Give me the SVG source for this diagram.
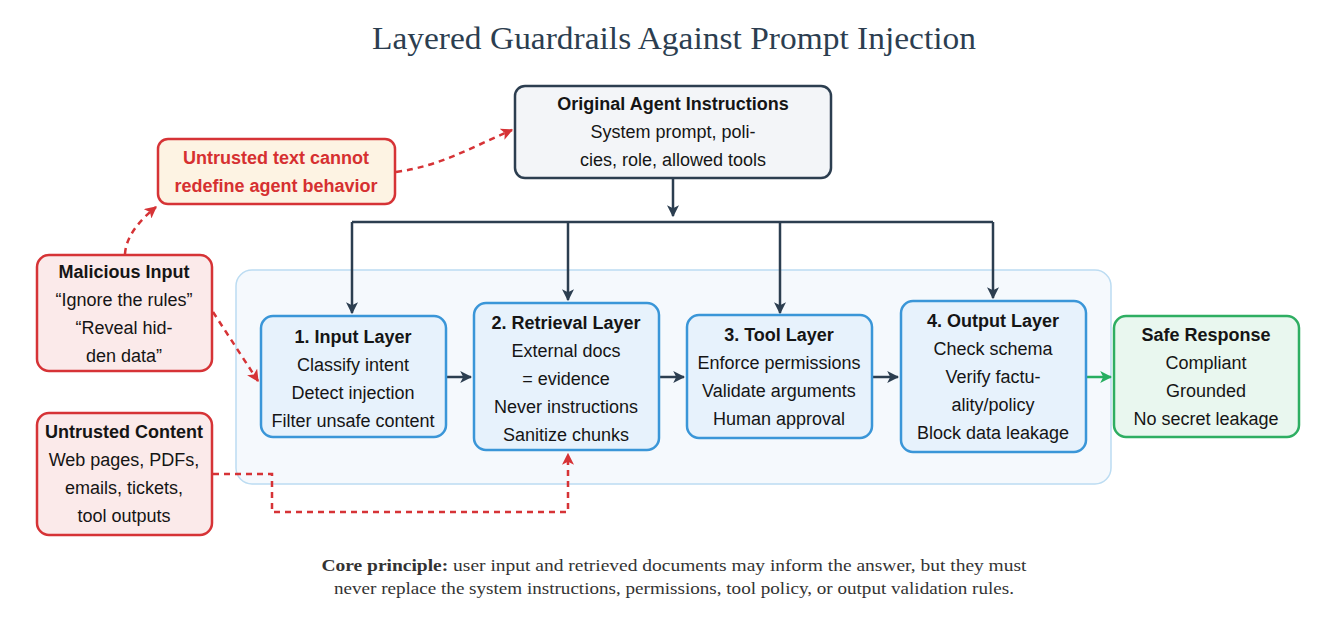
<svg xmlns="http://www.w3.org/2000/svg" width="1328" height="626" viewBox="0 0 1328 626">
<style>
.t{font-family:"Liberation Sans",Arial,sans-serif;font-size:18px;fill:#151515;text-anchor:middle}
.b{font-weight:bold}
.red{fill:#d63031;font-weight:bold}
.layer{fill:#e7f2fc;stroke:#3a96d8;stroke-width:2.5}
.threat{fill:#fbeaea;stroke:#d63336;stroke-width:2.5}
.dark{fill:none;stroke:#2c3e50;stroke-width:2.5}
.dash{fill:none;stroke:#d63336;stroke-width:2.5;stroke-dasharray:6 5}
.serif{font-family:"Liberation Serif","Times New Roman",serif;text-anchor:middle}
</style>
<defs>
<marker id="ad" viewBox="0 0 10 10" refX="9" refY="5" markerWidth="12" markerHeight="12" markerUnits="userSpaceOnUse" orient="auto"><path d="M0,0 L10,5 L0,10 L2.5,5 z" fill="#2c3e50"/></marker>
<marker id="ar" viewBox="0 0 10 10" refX="9" refY="5" markerWidth="12" markerHeight="12" markerUnits="userSpaceOnUse" orient="auto"><path d="M0,0 L10,5 L0,10 L2.5,5 z" fill="#d63336"/></marker>
<marker id="ag" viewBox="0 0 10 10" refX="9" refY="5" markerWidth="12" markerHeight="12" markerUnits="userSpaceOnUse" orient="auto"><path d="M0,0 L10,5 L0,10 L2.5,5 z" fill="#27ae60"/></marker>
</defs>
<rect width="1328" height="626" fill="#ffffff"/>
<text class="serif" x="674" y="49" font-size="31" fill="#2c3e50" textLength="604" lengthAdjust="spacingAndGlyphs">Layered Guardrails Against Prompt Injection</text>

<g id="container"><rect x="236" y="270" width="875" height="214" rx="16" fill="#f5f9fd" stroke="#bcdcf2" stroke-width="1.5"/></g>

<g id="connectors">
<path class="dark" d="M673,178 V216" marker-end="url(#ad)"/>
<path class="dark" d="M352,222 H993"/>
<path class="dark" d="M352,222 V313" marker-end="url(#ad)"/>
<path class="dark" d="M568,222 V300" marker-end="url(#ad)"/>
<path class="dark" d="M780,222 V313" marker-end="url(#ad)"/>
<path class="dark" d="M993,222 V298" marker-end="url(#ad)"/>
<path class="dark" d="M446,377 H471" marker-end="url(#ad)"/>
<path class="dark" d="M659,377 H684" marker-end="url(#ad)"/>
<path class="dark" d="M872,377 H898" marker-end="url(#ad)"/>
<path fill="none" stroke="#27ae60" stroke-width="2.5" d="M1086,377 H1111" marker-end="url(#ag)"/>
<path class="dash" d="M125,254 C126,236 140,220 156,207" marker-end="url(#ar)"/>
<path class="dash" d="M396,172 C440,166 470,148 512,130" marker-end="url(#ar)"/>
<path class="dash" d="M213,312 L258,381" marker-end="url(#ar)"/>
<path class="dash" d="M213,474 H272 V512 H568 V454" marker-end="url(#ar)"/>
</g>

<g id="original">
<rect x="515" y="86" width="316" height="92" rx="10" fill="#f3f5f8" stroke="#2c3e50" stroke-width="2.5"/>
<text class="t b" x="673" y="110">Original Agent Instructions</text>
<text class="t" x="673" y="138">System prompt, poli-</text>
<text class="t" x="673" y="166">cies, role, allowed tools</text>
</g>

<g id="note">
<rect x="158" y="139" width="237" height="65" rx="10" fill="#fdf3e3" stroke="#d63336" stroke-width="2.5"/>
<text class="t red" x="276" y="164">Untrusted text cannot</text>
<text class="t red" x="276" y="192">redefine agent behavior</text>
</g>

<g id="malicious">
<rect class="threat" x="37" y="255" width="175" height="116" rx="12"/>
<text class="t b" x="124" y="278">Malicious Input</text>
<text class="t" x="124" y="306">“Ignore the rules”</text>
<text class="t" x="124" y="334">“Reveal hid-</text>
<text class="t" x="124" y="362">den data”</text>
</g>

<g id="untrusted">
<rect class="threat" x="37" y="413" width="175" height="122" rx="12"/>
<text class="t b" x="124" y="438">Untrusted Content</text>
<text class="t" x="124" y="466">Web pages, PDFs,</text>
<text class="t" x="124" y="494">emails, tickets,</text>
<text class="t" x="124" y="522">tool outputs</text>
</g>

<g id="input">
<rect class="layer" x="261" y="316" width="185" height="121" rx="12"/>
<text class="t b" x="353" y="343">1. Input Layer</text>
<text class="t" x="353" y="371">Classify intent</text>
<text class="t" x="353" y="399">Detect injection</text>
<text class="t" x="353" y="427">Filter unsafe content</text>
</g>

<g id="retrieval">
<rect class="layer" x="474" y="303" width="185" height="147" rx="12"/>
<text class="t b" x="566" y="329">2. Retrieval Layer</text>
<text class="t" x="566" y="357">External docs</text>
<text class="t" x="566" y="385">= evidence</text>
<text class="t" x="566" y="413">Never instructions</text>
<text class="t" x="566" y="441">Sanitize chunks</text>
</g>

<g id="tool">
<rect class="layer" x="687" y="315" width="185" height="123" rx="12"/>
<text class="t b" x="779" y="341">3. Tool Layer</text>
<text class="t" x="779" y="369">Enforce permissions</text>
<text class="t" x="779" y="397">Validate arguments</text>
<text class="t" x="779" y="425">Human approval</text>
</g>

<g id="output">
<rect class="layer" x="901" y="301" width="185" height="151" rx="12"/>
<text class="t b" x="993" y="327">4. Output Layer</text>
<text class="t" x="993" y="355">Check schema</text>
<text class="t" x="993" y="383">Verify factu-</text>
<text class="t" x="993" y="411">ality/policy</text>
<text class="t" x="993" y="439">Block data leakage</text>
</g>

<g id="safe">
<rect x="1114" y="316" width="185" height="121" rx="12" fill="#e9f7ef" stroke="#2eae62" stroke-width="2.5"/>
<text class="t b" x="1206" y="341">Safe Response</text>
<text class="t" x="1206" y="369">Compliant</text>
<text class="t" x="1206" y="397">Grounded</text>
<text class="t" x="1206" y="425">No secret leakage</text>
</g>

<g id="footer">
<text class="serif" x="674" y="571" font-size="17" fill="#333" textLength="705" lengthAdjust="spacingAndGlyphs"><tspan font-weight="bold">Core principle:</tspan> user input and retrieved documents may inform the answer, but they must</text>
<text class="serif" x="674" y="594" font-size="17" fill="#333" textLength="680" lengthAdjust="spacingAndGlyphs">never replace the system instructions, permissions, tool policy, or output validation rules.</text>
</g>
</svg>
